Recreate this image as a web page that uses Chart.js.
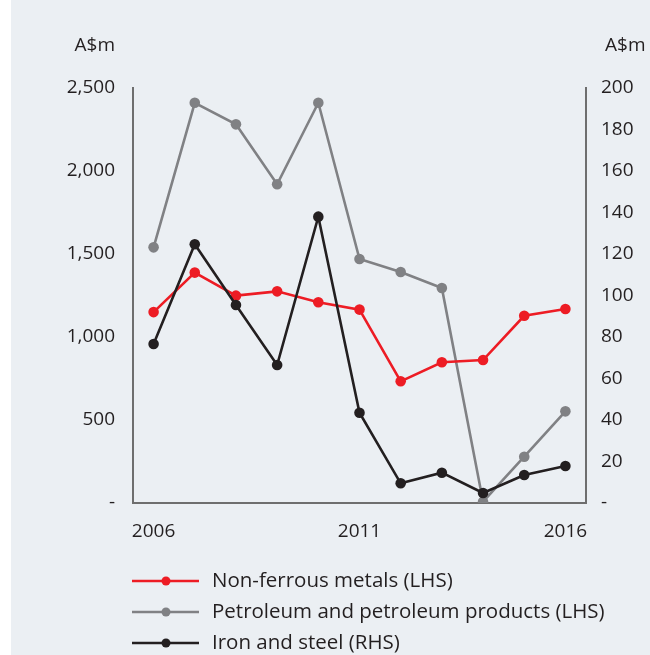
<!DOCTYPE html>
<html>
<head>
<meta charset="utf-8">
<script src="https://cdn.jsdelivr.net/npm/chart.js@4.4.1/dist/chart.umd.min.js"></script>
<style>
  html, body { margin: 0; padding: 0; background: #fff; }
  #wrap { position: absolute; left: 11px; top: 0; width: 639px; height: 655px; background: #ebeff3; }
  canvas { display: block; }
</style>
</head>
<body>
<div id="wrap"><canvas id="lineChart" width="639" height="655"></canvas></div>
<script>
const years = ['2006', '2007', '2008', '2009', '2010', '2011', '2012', '2013', '2014', '2015', '2016'];
const shownYears = ['2006', '2011', '2016'];
const nonFerrous = [1150, 1388, 1249, 1275, 1209, 1165, 733, 848, 861, 1128, 1169];
const petroleum = [1540, 2411, 2281, 1920, 2411, 1470, 1392, 1295, 8, 279, 552];
const ironSteel = [76.6, 124.7, 95.4, 66.5, 138, 43.5, 9.5, 14.6, 4.8, 13.5, 17.8];
const leftTicks = [0, 500, 1000, 1500, 2000, 2500];
const rightTicks = [0, 20, 40, 60, 80, 100, 120, 140, 160, 180, 200];

const textColor = '#231f20';
const axisColor = '#6e6e6e';
const fontFamily = '"Open Sans", "Noto Sans", sans-serif';

// unit labels above both axes + the stacked legend under the plot
const extras = {
  id: 'extras',
  afterDraw(chart) {
    const ctx = chart.ctx;
    const area = chart.chartArea;
    ctx.save();
    ctx.fillStyle = textColor;
    ctx.font = '19px ' + fontFamily;
    ctx.textBaseline = 'middle';
    ctx.textAlign = 'right';
    ctx.fillText('A$m', chart.scales.y.right - 18, 46);
    ctx.textAlign = 'left';
    ctx.fillText('A$m', chart.scales.y1.left + 19, 46);

    ctx.font = '20.5px ' + fontFamily;
    chart.data.datasets.forEach(function(ds, i) {
      const y = 581 + i * 31;
      const x0 = area.left - 1;
      ctx.strokeStyle = ds.borderColor;
      ctx.lineWidth = 2.5;
      ctx.beginPath();
      ctx.moveTo(x0, y);
      ctx.lineTo(x0 + 67, y);
      ctx.stroke();
      ctx.fillStyle = ds.borderColor;
      ctx.beginPath();
      ctx.arc(x0 + 34, y, 4.5, 0, Math.PI * 2);
      ctx.fill();
      ctx.fillStyle = textColor;
      ctx.fillText(ds.label, x0 + 80, y);
    });
    ctx.restore();
  }
};

const ctx = document.getElementById('lineChart').getContext('2d');
const lineChart = new Chart(ctx, {
  type: 'line',
  data: {
    labels: years,
    datasets: [
      {
        label: 'Non-ferrous metals (LHS)',
        data: nonFerrous,
        yAxisID: 'y',
        borderColor: '#ed1c24',
        backgroundColor: '#ed1c24',
        order: 1
      },
      {
        label: 'Petroleum and petroleum products (LHS)',
        data: petroleum,
        yAxisID: 'y',
        borderColor: '#808184',
        backgroundColor: '#808184',
        order: 2
      },
      {
        label: 'Iron and steel (RHS)',
        data: ironSteel,
        yAxisID: 'y1',
        borderColor: '#231f20',
        backgroundColor: '#231f20',
        order: 0
      }
    ]
  },
  options: {
    responsive: false,
    animation: false,
    layout: { padding: { top: 88, left: 0, right: 0, bottom: 0 } },
    elements: {
      line: { borderWidth: 2.6, tension: 0 },
      point: { radius: 5.3, borderWidth: 0, hoverRadius: 5.3 }
    },
    plugins: {
      legend: { display: false },
      tooltip: { enabled: false }
    },
    scales: {
      x: {
        offset: true,
        grid: { display: false, drawTicks: false },
        border: { display: true, color: axisColor, width: 2 },
        ticks: {
          autoSkip: false,
          maxRotation: 0,
          padding: 17,
          color: textColor,
          font: { family: fontFamily, size: 19 },
          callback: function(value) {
            const lab = this.getLabelForValue(value);
            return shownYears.includes(lab) ? lab : '';
          }
        },
        afterFit: function(scale) { scale.height = 152; }
      },
      y: {
        position: 'left',
        min: 0,
        max: 2500,
        grid: { display: false, drawTicks: false },
        border: { display: true, color: axisColor, width: 2 },
        afterBuildTicks: function(scale) {
          scale.ticks = leftTicks.map(function(v) { return { value: v }; });
        },
        ticks: {
          padding: 18,
          color: textColor,
          font: { family: fontFamily, size: 19 },
          callback: function(value) {
            return value === 0 ? '-' : value.toLocaleString('en-US');
          }
        },
        afterFit: function(scale) { scale.width = 122; }
      },
      y1: {
        position: 'right',
        min: 0,
        max: 200,
        grid: { display: false, drawTicks: false },
        border: { display: true, color: axisColor, width: 2 },
        afterBuildTicks: function(scale) {
          scale.ticks = rightTicks.map(function(v) { return { value: v }; });
        },
        ticks: {
          padding: 15,
          color: textColor,
          font: { family: fontFamily, size: 19 },
          callback: function(value) {
            return value === 0 ? '-' : String(value);
          }
        },
        afterFit: function(scale) { scale.width = 64; }
      }
    }
  },
  plugins: [extras]
});
</script>
</body>
</html>
